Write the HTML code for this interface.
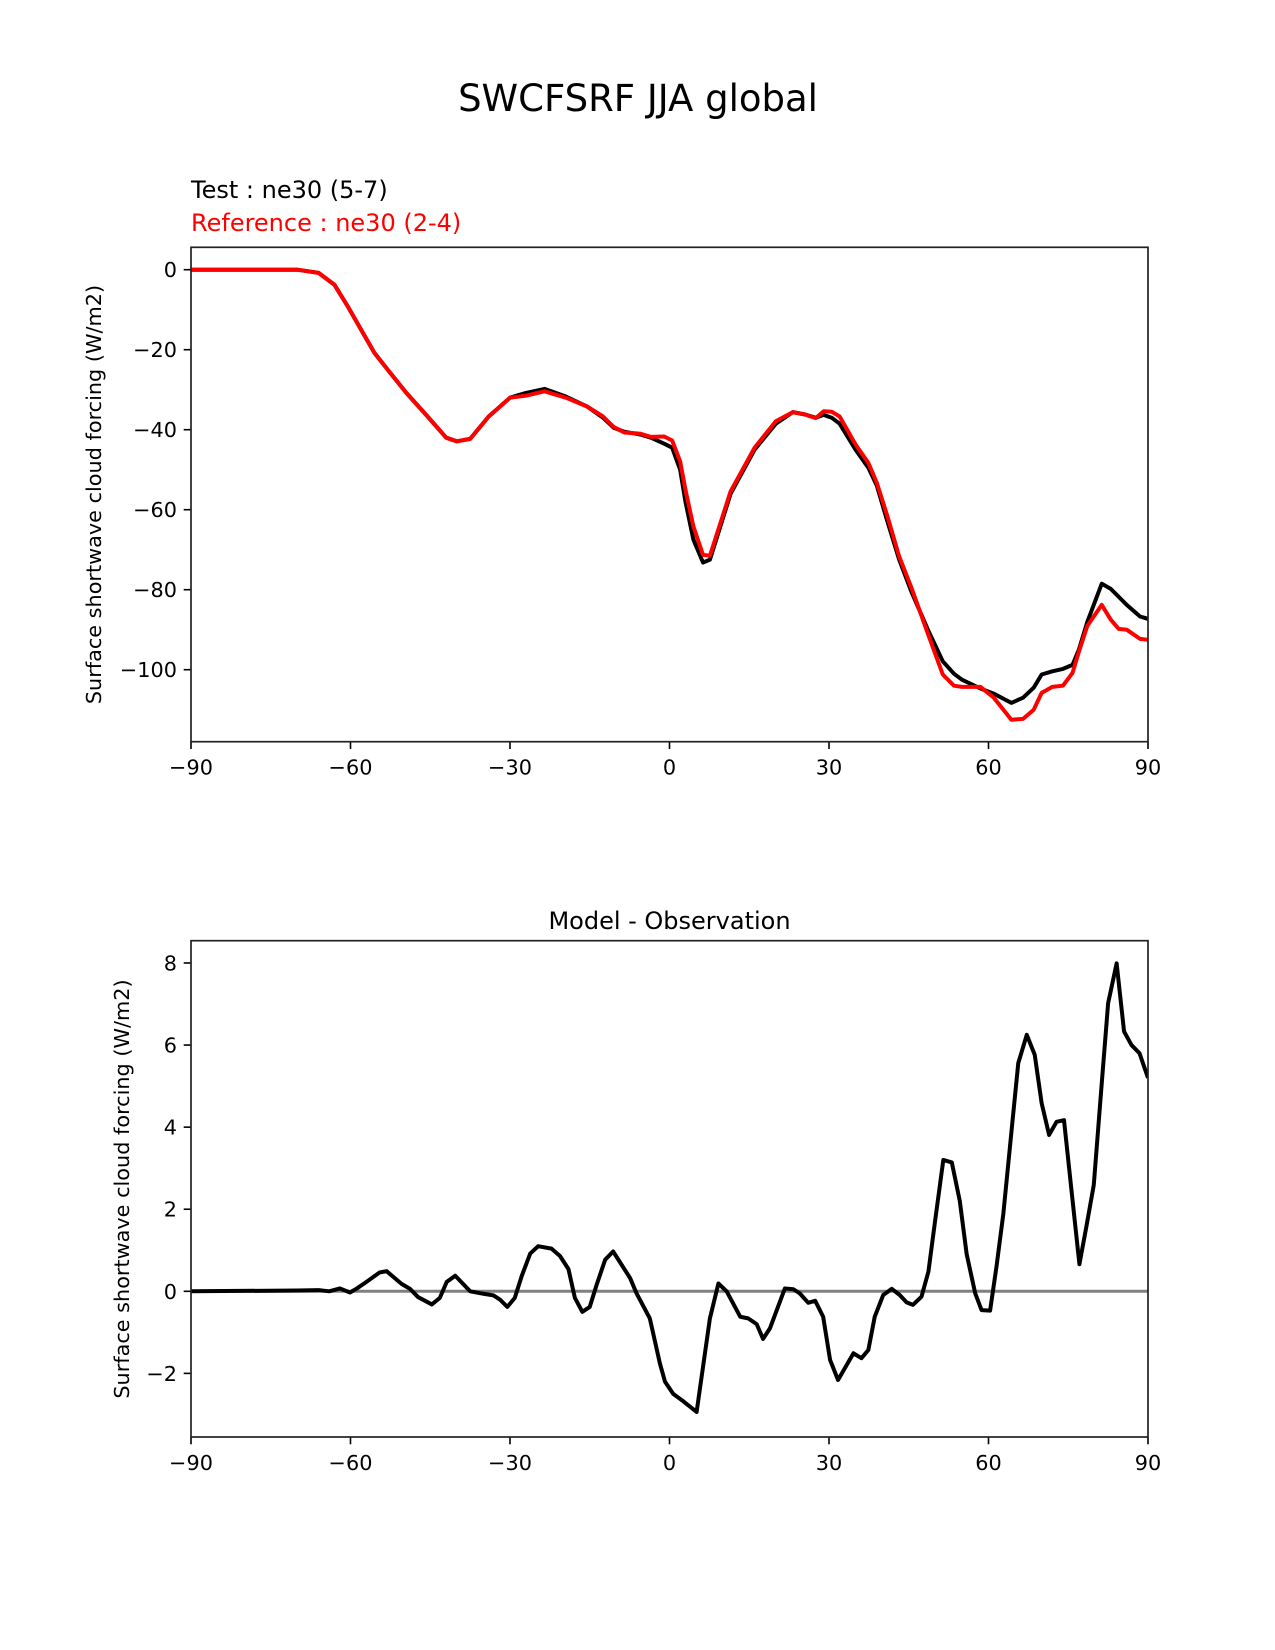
<!DOCTYPE html>
<html><head><meta charset="utf-8"><style>
body{margin:0;background:#fff}
svg{display:block;font-family:"DejaVu Sans","Liberation Sans",sans-serif}
</style></head><body>
<svg id="fig" width="1275" height="1650" viewBox="0 0 1275 1650" xmlns="http://www.w3.org/2000/svg">
<defs>
<clipPath id="clipTop"><rect x="191" y="247" width="957" height="495"/></clipPath>
<clipPath id="clipBot"><rect x="191" y="941" width="957" height="496"/></clipPath>
</defs>
<text x="638" y="111" font-size="37" text-anchor="middle">SWCFSRF JJA global</text>
<text x="191" y="198" font-size="24">Test : ne30 (5-7)</text>
<text x="191" y="231" font-size="24" fill="#ff0000">Reference : ne30 (2-4)</text>
<text x="669.5" y="929" font-size="24" text-anchor="middle">Model - Observation</text>
<text transform="translate(101,494.5) rotate(-90)" font-size="20.8" text-anchor="middle">Surface shortwave cloud forcing (W/m2)</text>
<text transform="translate(129,1189) rotate(-90)" font-size="20.8" text-anchor="middle">Surface shortwave cloud forcing (W/m2)</text>
<g id="topG"></g>
<g id="botG"></g>
</svg>
<script>
const xTicks=[-90,-60,-30,0,30,60,90];
const topYTicks=[0,-20,-40,-60,-80,-100];
const botYTicks=[-2,0,2,4,6,8];
const topLat=[-90,-70,-66,-63,-60.5,-58,-55.5,-53,-49.5,-45.5,-42,-40,-37.5,-34,-30,-27,-23.5,-19.5,-15.5,-12.5,-10.5,-8.5,-5.5,-3.5,-1,0.5,2,3,4.5,6.3,7.6,11.5,16,20,23.2,25.5,27.5,29,30.5,32,35,37.4,39,41,43.2,45.5,48.6,51.4,53.5,55,58.5,61,64.3,66.5,68.5,70,72,74,75.8,77,78.6,81.3,83,84.5,86,88.5,90];
const testVals=[0,0,-0.8,-3.8,-9.2,-15,-20.8,-25,-30.8,-36.7,-42,-42.9,-42.3,-36.7,-32,-30.8,-29.8,-31.7,-34.2,-37,-39.5,-40.5,-41.2,-42,-43.5,-44.5,-50,-58,-67.5,-73.2,-72.5,-56,-45,-38.5,-35.6,-36.2,-37,-36.3,-37,-38.5,-45,-49.5,-54,-63,-72.5,-80.5,-90,-97.9,-101,-102.5,-104.7,-106,-108.3,-107,-104.5,-101.2,-100.4,-99.8,-98.8,-95,-88,-78.5,-79.8,-81.8,-83.8,-86.7,-87.3];
const refVals=[0,0,-0.8,-3.8,-9.2,-15,-20.8,-25,-30.8,-36.7,-42,-42.9,-42.3,-36.7,-32,-31.5,-30.4,-32,-34.2,-36.7,-39.3,-40.7,-41,-41.8,-41.7,-42.7,-47.9,-55,-64.2,-71.3,-71.5,-55.4,-44.5,-37.9,-35.6,-36.2,-37.1,-35.4,-35.5,-36.7,-43.7,-48.3,-53.3,-61.7,-71.7,-79.5,-91,-101.2,-104,-104.3,-104.3,-107,-112.5,-112.3,-110,-105.8,-104.3,-104,-100.8,-95.5,-89,-83.8,-87.5,-89.8,-90,-92.3,-92.5];
const diffLat=[-90,-70,-66,-64,-62,-60.1,-58.8,-57,-54.5,-53.2,-50.4,-48.8,-47.3,-44.7,-43.2,-41.9,-40.3,-37.5,-35,-33.1,-31.9,-30.5,-29.1,-27.8,-26.2,-24.7,-22.2,-20.6,-19,-17.8,-16.4,-15,-13.7,-12.1,-10.6,-7.4,-6.2,-3.7,-1.8,-0.85,0.7,2.6,5.1,7.6,9.2,10.75,13.3,14.8,16.4,17.6,18.9,21.7,23.3,24.5,26.1,27.4,28.9,30.2,31.7,34.6,36.1,37.4,38.6,40.2,41.8,43.3,44.6,45.8,47.4,48.7,49.9,51.5,53.1,54.6,55.9,57.5,58.7,60.3,61.5,62.8,64.4,65.6,67.2,68.7,70,71.4,72.8,74.2,75.6,77.1,78.4,79.8,81.3,82.5,84.1,85.5,86.9,88.4,90];
const diffVals=[0,0.02,0.03,0,0.07,-0.03,0.07,0.23,0.46,0.49,0.18,0.06,-0.14,-0.32,-0.16,0.23,0.38,0,-0.06,-0.1,-0.2,-0.38,-0.16,0.37,0.92,1.1,1.04,0.86,0.54,-0.16,-0.5,-0.38,0.16,0.77,0.97,0.32,-0.05,-0.66,-1.76,-2.2,-2.5,-2.68,-2.94,-0.66,0.19,0,-0.62,-0.66,-0.8,-1.16,-0.9,0.07,0.05,-0.05,-0.28,-0.23,-0.62,-1.67,-2.16,-1.51,-1.63,-1.43,-0.62,-0.09,0.06,-0.09,-0.27,-0.33,-0.13,0.48,1.66,3.2,3.14,2.2,0.9,-0.05,-0.46,-0.47,0.6,1.9,4.0,5.56,6.25,5.76,4.58,3.81,4.13,4.17,2.47,0.66,1.57,2.59,5.07,7.02,7.99,6.33,6.0,5.8,5.2];

const NS="http://www.w3.org/2000/svg";
function mk(tag,attrs,parent){const e=document.createElementNS(NS,tag);for(const k in attrs)e.setAttribute(k,attrs[k]);parent.appendChild(e);return e;}
const X0=191,X1=1148;
const xScale=v=>X0+(v+90)/180*(X1-X0);
const topY=v=>269.7-v*4.0;
const botY=v=>1291.3-v*41.04;
const fmt=v=>(v<0?"\u2212"+Math.abs(v):String(v));

function drawAxes(g,top,bottom,yScale,yTicks,prefix){
  for(const t of xTicks){
    const x=xScale(t);
    const tk=mk('line',{x1:x,x2:x,y1:bottom,y2:bottom+7.3,stroke:'#000','stroke-width':1.6},g);
    
    
    const lb=mk('text',{x:x,y:bottom+33,'font-size':20.8,'text-anchor':'middle'},g);
    lb.textContent=fmt(t);
    
    
  }
  for(const t of yTicks){
    const y=yScale(t);
    const tk=mk('line',{x1:X0-7.3,x2:X0,y1:y,y2:y,stroke:'#000','stroke-width':1.6},g);
    
    
    const lb=mk('text',{x:177,y:y+7.5,'font-size':20.8,'text-anchor':'end'},g);
    lb.textContent=fmt(t);
    
    
  }
  const fr=mk('rect',{x:X0,y:top,width:X1-X0,height:bottom-top,fill:'none',stroke:'#222','stroke-width':1.7},g);
  
  
}
function line(g,lats,vals,yScale,color,w,clip,name){
  const d=lats.map((la,i)=>(i?'L':'M')+xScale(la).toFixed(2)+','+yScale(vals[i]).toFixed(2)).join('');
  const p=mk('path',{d:d,fill:'none',stroke:color,'stroke-width':w,'stroke-linejoin':'round','clip-path':'url(#'+clip+')'},g);
  
  
}
const topG=document.getElementById('topG');
line(topG,topLat,testVals,topY,'#000',4,'clipTop','test-line');
line(topG,topLat,refVals,topY,'#ff0000',4,'clipTop','reference-line');
drawAxes(topG,247.3,741.7,topY,topYTicks,'top');

const botG=document.getElementById('botG');
line(botG,[-90,90],[0,0],botY,'#808080',3,'clipBot','zero-line');
line(botG,diffLat,diffVals,botY,'#000',4,'clipBot','diff-line');
drawAxes(botG,940.7,1437,botY,botYTicks,'bottom');
</script>
</body></html>
